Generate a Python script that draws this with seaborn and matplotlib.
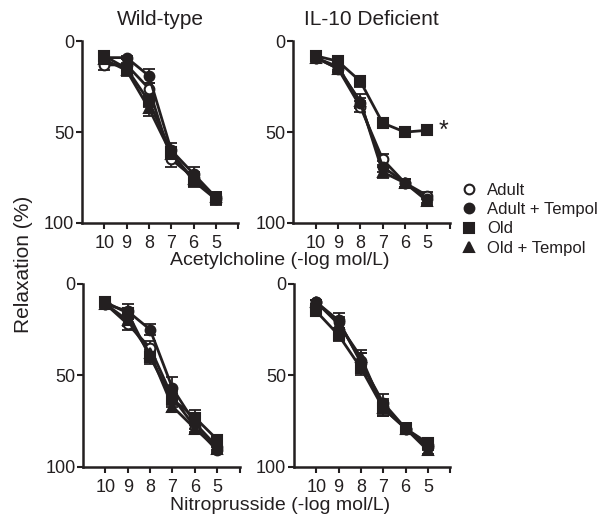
import numpy as np
import pandas as pd
import matplotlib
matplotlib.use("Agg")
import matplotlib.pyplot as plt
import seaborn as sns

sns.set_style("ticks")
plt.rcParams['font.family'] = ['Liberation Sans', 'DejaVu Sans']

# concentrations (-log mol/L)
conc = [10, 9, 8, 7, 6, 5]
groups = ["Adult", "Adult + Tempol", "Old", "Old + Tempol"]

# relaxation (%) per panel, per group
ach_wt = {
    "Adult": [13, 13, 26, 65, 75, 87],
    "Adult + Tempol": [9, 9, 19, 60, 73, 86],
    "Old": [8, 15, 33, 61, 77, 87],
    "Old + Tempol": [10, 16, 37, 62, 76, 86],
}
ach_wt_err = {
    "Adult": [3, 3, 3, 4, 3, 2],
    "Adult + Tempol": [1, 1, 4, 4, 4, 3],
    "Old": [2, 3, 3, 3, 3, 3],
    "Old + Tempol": [2, 3, 4, 3, 3, 3],
}
ach_ko = {
    "Adult": [9, 15, 36, 65, 78, 85],
    "Adult + Tempol": [9, 14, 34, 69, 78, 87],
    "Old": [8, 11, 22, 45, 50, 49],
    "Old + Tempol": [9, 15, 33, 72, 78, 88],
}
ach_ko_err = {
    "Adult": [1, 2, 3, 3, 2, 2],
    "Adult + Tempol": [1, 2, 3, 3, 2, 2],
    "Old": [1, 2, 3, 3, 2, 1],
    "Old + Tempol": [1, 2, 4, 3, 2, 2],
}
snp_wt = {
    "Adult": [11, 22, 35, 62, 78, 91],
    "Adult + Tempol": [11, 15, 25, 57, 76, 89],
    "Old": [10, 16, 40, 63, 73, 85],
    "Old + Tempol": [11, 20, 38, 67, 79, 90],
}
snp_wt_err = {
    "Adult": [1, 3, 4, 4, 3, 2],
    "Adult + Tempol": [1, 4, 3, 6, 3, 2],
    "Old": [1, 3, 4, 4, 4, 2],
    "Old + Tempol": [1, 3, 4, 3, 3, 2],
}
snp_ko = {
    "Adult": [10, 21, 42, 67, 79, 88],
    "Adult + Tempol": [10, 20, 43, 65, 79, 89],
    "Old": [15, 28, 46, 68, 79, 87],
    "Old + Tempol": [10, 22, 40, 68, 79, 91],
}
snp_ko_err = {
    "Adult": [1, 3, 4, 4, 3, 2],
    "Adult + Tempol": [1, 4, 5, 5, 3, 2],
    "Old": [1, 3, 4, 4, 3, 2],
    "Old + Tempol": [1, 3, 4, 4, 3, 2],
}

titles = ["Wild-type", "IL-10 Deficient"]

ink = "#231f20"
marker_style = {
    "Adult": dict(marker="o", mfc="white", ms=7),
    "Adult + Tempol": dict(marker="o", mfc=ink, ms=7),
    "Old": dict(marker="s", mfc=ink, ms=6.5),
    "Old + Tempol": dict(marker="^", mfc=ink, ms=7.5),
}

fig = plt.figure(figsize=(6.11, 5.16), dpi=100)
positions = [
    [0.134, 0.568, 0.256, 0.352],
    [0.480, 0.568, 0.256, 0.352],
    [0.136, 0.095, 0.256, 0.355],
    [0.481, 0.095, 0.256, 0.355],
]
panels = [(ach_wt, ach_wt_err), (ach_ko, ach_ko_err),
          (snp_wt, snp_wt_err), (snp_ko, snp_ko_err)]

axes = []
for i, (vals, errs) in enumerate(panels):
    ax = fig.add_axes(positions[i])
    axes.append(ax)
    for g in groups:
        df = pd.DataFrame({"conc": conc, "val": vals[g]})
        ax.errorbar(conc, vals[g], yerr=errs[g], fmt="none", ecolor=ink,
                    elinewidth=1.3, capsize=4, capthick=1.3, zorder=2)
        sns.lineplot(data=df, x="conc", y="val", ax=ax, color=ink, lw=2,
                     mec=ink, mew=1.5, zorder=3, **marker_style[g])
    ax.set_xlim(11, 4)
    ax.set_ylim(100, 0)
    ax.set_xticks(conc)
    ax.set_xticks([4], minor=True)
    ax.set_yticks([0, 50, 100])
    ax.set_xlabel("")
    ax.set_ylabel("")
    ax.tick_params(which="both", direction="out", length=4.5, width=1.5,
                   colors=ink, labelsize=13)
    ax.tick_params(axis="x", pad=4)
    ax.tick_params(axis="y", pad=1)
    for s in ["left", "bottom"]:
        ax.spines[s].set_linewidth(1.8)
        ax.spines[s].set_color(ink)
    sns.despine(ax=ax)
    if i < 2:
        ax.set_title(titles[i], fontsize=15, color=ink, pad=12)

axes[1].text(4.3, 49.5, "*", fontsize=18, color=ink, ha="center", va="center")

fig.text(0.458, 0.496, "Acetylcholine (-log mol/L)", fontsize=14, color=ink,
         ha="center", va="center")
fig.text(0.458, 0.02, "Nitroprusside (-log mol/L)", fontsize=14, color=ink,
         ha="center", va="center")
fig.text(0.038, 0.487, "Relaxation (%)", fontsize=15, color=ink,
         ha="center", va="center", rotation=90)

handles = []
for g in groups:
    h, = axes[1].plot([], [], ls="none", color=ink, mec=ink, mew=1.5,
                      **marker_style[g])
    handles.append(h)
fig.legend(handles, groups, loc="upper left", bbox_to_anchor=(0.74, 0.658),
           frameon=False, fontsize=12, handletextpad=0.5, labelspacing=0.25,
           handlelength=1.2, labelcolor=ink, borderaxespad=0)

fig.savefig("out.png", dpi=100)
